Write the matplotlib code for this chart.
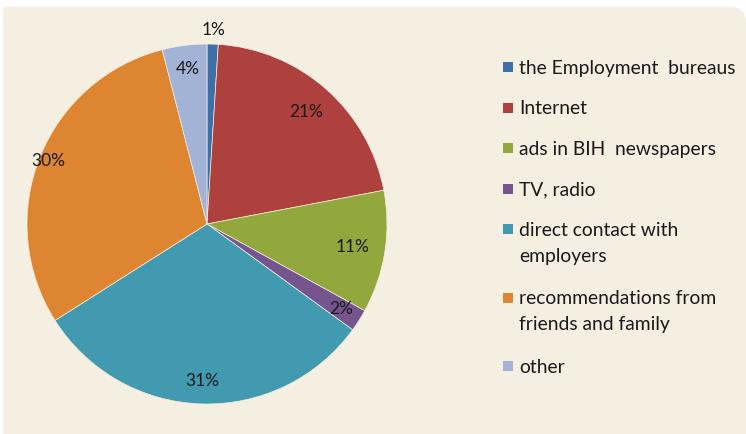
import numpy as np
import matplotlib.pyplot as plt
from matplotlib.patches import FancyBboxPatch, Rectangle

# data
labels = ['the Employment  bureaus', 'Internet', 'ads in BIH  newspapers', 'TV, radio',
          'direct contact with\nemployers', 'recommendations from\nfriends and family', 'other']
values = [1, 21, 11, 2, 31, 30, 4]
colors = ['#3E6FA8', '#AE403D', '#93A83C', '#76548E', '#429AB0', '#DE8531', '#A3B3D5']
# radial distance of each percent label (Excel "best fit" placement)
label_dist = [1.08, 0.83, 0.82, 0.88, 0.87, 0.95, 0.87]

plt.rcParams['font.family'] = ['Lato', 'DejaVu Sans']
W, H = 746, 434
bgcol = '#F5EFE2'
fig = plt.figure(figsize=(W / 100, H / 100), dpi=100, facecolor='white')

# background panel, rounded only at the top right
fig.patches.append(Rectangle((3, -5), 600, H - 2, transform=None,
                             facecolor=bgcol, edgecolor='none', zorder=-5))
fig.patches.append(FancyBboxPatch((3, -40), W - 3, H - 7 + 40,
                                  boxstyle='round,pad=0,rounding_size=16', transform=None,
                                  facecolor=bgcol, edgecolor='none', zorder=-5))

# pie area: centre (207, 224), radius 180 px
cx, cy, r = 207, 224, 180
ax = fig.add_axes([(cx - r) / W, (H - cy - r) / H, 2 * r / W, 2 * r / H])
ax.set_aspect('equal')
ax.axis('off')

wedges, texts, autotexts = ax.pie(values, colors=colors, startangle=90, counterclock=False,
                                  autopct='%1.0f%%', pctdistance=0.84, radius=1,
                                  wedgeprops=dict(edgecolor=bgcol, linewidth=0.5),
                                  textprops=dict(fontsize=12.5, color='#1a1a1a'))
ax.set_xlim(-1, 1)
ax.set_ylim(-1, 1)

for w, t, d in zip(wedges, autotexts, label_dist):
    mid = np.deg2rad((w.theta1 + w.theta2) / 2)
    t.set_position((d * np.cos(mid), d * np.sin(mid)))

# legend drawn manually so the square lines up with the first line of text
y = 67
for lab, col in zip(labels, colors):
    fig.patches.append(Rectangle((503, H - y - 5), 10, 10, transform=None,
                                 facecolor=col, edgecolor='none'))
    fig.text(519 / W, 1 - (y - 7) / H, lab, fontsize=13.9, color='#1a1a1a',
             va='top', ha='left', linespacing=1.62)
    y += 40.5 + 28 * lab.count('\n')

fig.savefig('out.png', dpi=100, facecolor=fig.get_facecolor())
